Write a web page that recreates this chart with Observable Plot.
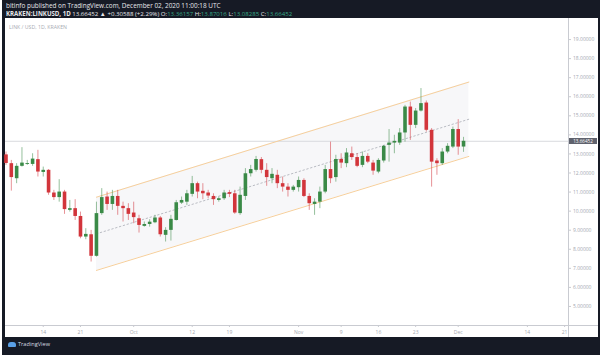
<!DOCTYPE html>
<html><head><meta charset="utf-8">
<script src="https://cdn.jsdelivr.net/npm/d3@7"></script>
<script src="https://cdn.jsdelivr.net/npm/@observablehq/plot@0.6"></script>
<style>
html,body{margin:0;padding:0;background:#fff;}
#frame{position:relative;width:602px;height:355px;overflow:hidden;background:#fff;font-family:"Open Sans","Noto Sans",sans-serif;}
#dark{position:absolute;left:2px;top:0;width:598px;height:355px;background:#161a25;}
.h{position:absolute;white-space:nowrap;line-height:1;}
#head1{left:6px;top:2.5px;font-size:6.4px;color:#e6e7ea;}
#head2{left:6px;top:10.5px;font-size:6.1px;color:#e6e7ea;}
#head2 b{font-weight:700;}
#head2 .g{color:#36a887;}
#chart{position:absolute;left:5px;top:18px;width:593px;height:319px;background:#fff;}
#sym{left:9px;top:25px;font-size:5.2px;color:#a8abb3;}
#sep{position:absolute;left:568px;top:18px;width:1px;height:319px;background:#c9cbd1;}
#tag{position:absolute;left:569px;width:28px;height:6px;background:#5f626d;color:#fff;font-size:4.6px;line-height:6px;text-align:center;}
#logo{left:8px;top:342px;font-size:5.6px;color:#d8dae0;}
#logo i{display:inline-block;width:8px;height:5px;background:#5aa0e6;border-radius:3px 3px 1px 1px;margin-right:2px;vertical-align:middle;}
</style></head>
<body>
<div id="frame">
  <div id="dark"></div>
  <div class="h" id="head1">bitinfo published on TradingView.com, December 02, 2020 11:00:18 UTC</div>
  <div class="h" id="head2"><b>KRAKEN:LINKUSD, 1D</b> 13.66452 ▲ +0.30588 (+2.29%) O:<span class="g">13.36157</span> H:<span class="g">13.87016</span> L:<span class="g">13.08285</span> C:<span class="g">13.66452</span></div>
  <div id="chart"></div>
  <div class="h" id="sym">LINK / USD, 1D, KRAKEN</div>
  <div id="sep"></div>
  <div class="h" id="logo"><i></i>TradingView</div>
</div>
<script>
// ---- data (LINK/USD daily, Kraken) ----
const firstDay = "2020-09-07";
const open = [12.95,12.49,11.70,12.35,12.45,12.45,12.70,12.03,12.14,10.95,
  10.71,11.00,10.04,10.13,9.72,8.64,8.76,7.63,9.87,10.74,
  10.35,10.77,10.25,10.13,9.90,9.60,9.20,9.30,9.39,9.64,
  8.73,8.99,9.51,10.42,10.47,10.88,11.44,11.04,10.95,10.77,
  10.56,10.65,10.97,10.91,9.87,10.77,11.96,12.14,12.70,12.14,
  11.70,11.88,11.44,11.26,11.09,11.23,11.61,10.77,10.35,10.47,
  11.00,12.18,11.76,12.71,12.49,13.01,12.81,12.40,12.87,12.52,
  12.05,12.63,13.45,13.57,13.57,14.10,15.46,14.50,15.25,15.67,
  14.24,12.63,12.49,13.10,13.36,14.28,13.36157];
const high = [13.10,12.66,12.49,13.33,12.66,13.01,13.19,12.31,12.18,11.09,
  11.65,11.09,10.56,10.60,9.95,9.08,8.99,10.47,11.18,11.00,
  11.09,11.09,10.47,10.39,10.47,9.78,9.43,9.55,9.78,9.72,
  9.13,9.78,10.56,10.74,11.09,11.82,11.52,11.44,11.09,10.91,
  10.74,11.09,11.09,11.09,11.26,12.23,12.40,12.87,12.81,12.49,
  12.23,12.14,11.79,11.44,11.35,11.79,11.70,10.91,10.65,11.26,
  12.40,13.62,12.93,13.01,13.28,13.36,13.01,13.10,13.01,12.66,
  12.75,13.45,14.28,13.98,14.33,15.55,15.72,15.38,16.43,15.78,
  14.33,12.75,13.28,13.54,14.41,14.80,13.87016];
const low = [12.40,11.05,11.44,12.31,12.40,12.35,11.79,11.79,10.83,10.56,
  10.47,9.83,9.95,9.51,8.55,8.50,7.33,7.59,9.78,10.04,
  10.04,9.78,9.43,9.51,9.34,8.85,9.16,9.16,9.34,8.64,
  8.38,8.43,9.48,10.35,10.30,10.74,10.65,10.60,10.65,10.30,
  10.47,10.56,10.71,9.83,9.78,10.56,11.79,12.05,11.96,11.30,
  11.44,11.18,11.00,10.74,11.00,11.00,10.71,10.04,9.78,10.13,
  10.91,11.44,11.52,12.23,12.28,12.66,12.28,12.28,12.49,11.88,
  11.96,12.52,12.57,13.01,13.45,13.62,13.71,14.33,15.20,14.15,
  11.26,11.88,12.40,13.01,13.28,12.93,13.08285];
const close = [12.50,11.76,12.35,12.52,12.50,12.73,12.05,12.14,10.95,10.71,
  11.00,10.08,10.13,9.72,8.64,8.78,7.63,9.87,10.71,10.35,
  10.77,10.25,10.13,9.83,9.66,9.25,9.30,9.42,9.64,8.76,
  8.99,9.57,10.44,10.56,10.91,11.44,11.00,10.91,10.79,10.60,
  10.65,10.95,10.88,9.90,10.83,11.96,12.18,12.71,12.14,11.76,
  11.93,11.44,11.26,11.09,11.26,11.61,10.77,10.39,10.47,11.00,
  12.18,11.70,12.71,12.52,13.05,12.81,12.35,12.87,12.57,12.10,
  12.66,13.40,13.57,13.66,14.10,15.46,14.50,15.25,15.64,14.24,
  12.57,12.49,13.10,13.40,14.28,13.36,13.66452];

// parallel channel (drawing)
const channelDates = ["2020-09-24", "2020-12-03"];
const channelUpper = [10.73, 16.77];
const channelLower = [6.89, 12.87];
const channelMid = [8.81, 14.82];

// axis ticks
const yTicks = [5,6,7,8,9,10,11,12,13,14,15,16,17,18,19];
const xTickDates = ["2020-09-14","2020-09-21","2020-10-01","2020-10-12","2020-10-19","2020-11-01","2020-11-09","2020-11-16","2020-11-23","2020-12-01","2020-12-14","2020-12-21"];
const xTickLabels = ["14","21","Oct","12","19","Nov","9","16","23","Dec","14","21"];

const lastClose = 13.66452;

// ---- build ----
const start = new Date(firstDay + "T00:00:00Z");
const dates = open.map((_, i) => d3.utcDay.offset(start, i));
const candles = dates.map((date, i) => ({date, open: open[i], high: high[i], low: low[i], close: close[i]}));
const channel = channelDates.map((d, i) => ({date: new Date(d + "T00:00:00Z"), upper: channelUpper[i], lower: channelLower[i], mid: channelMid[i]}));
const tickDates = xTickDates.map(d => new Date(d + "T00:00:00Z"));
const labelMap = new Map(tickDates.map((d, i) => [+d, xTickLabels[i]]));

const DAY = 864e5;
const xDomain = [new Date(+start - 0.094 * DAY), new Date(+start + 105.73 * DAY)];
const up = "#3a8a47", down = "#d2353b";
const col = d => d.close >= d.open ? up : down;

const chart = Plot.plot({
  width: 593, height: 319,
  marginLeft: 0, marginRight: 30, marginTop: 2, marginBottom: 12,
  style: {fontSize: "5px", fontFamily: "'Open Sans','Noto Sans',sans-serif", color: "#9a9ea8", background: "transparent", overflow: "visible"},
  x: {type: "utc", domain: xDomain},
  y: {domain: [4, 20]},
  marks: [
    Plot.areaY(channel, {x: "date", y1: "lower", y2: "upper", fill: "#f7f7f9", curve: "linear"}),
    Plot.ruleY([lastClose], {stroke: "#d9dade", strokeWidth: 1}),
    Plot.line(channel, {x: "date", y: "upper", stroke: "#f6cf9c", strokeWidth: 1}),
    Plot.line(channel, {x: "date", y: "lower", stroke: "#f6cf9c", strokeWidth: 1}),
    Plot.line(channel, {x: "date", y: "mid", stroke: "#b3b6bd", strokeWidth: 0.9, strokeDasharray: "1.5,2.5"}),
    Plot.ruleX(candles, {x: "date", y1: "low", y2: "high", stroke: col, strokeWidth: 0.9, strokeOpacity: 0.6}),
    Plot.ruleX(candles, {x: "date", y1: "open", y2: "close", stroke: col, strokeWidth: 3.6}),
    Plot.ruleY([4], {stroke: "#c9cbd1"}),
    Plot.axisY(yTicks, {anchor: "right", tickSize: 2, tickPadding: 2.5, stroke: "#c9cbd1", fill: "#a4a7b0", tickFormat: d => d.toFixed(5)}),
    Plot.axisX(tickDates, {anchor: "bottom", tickSize: 2, tickPadding: 2.5, stroke: "#c9cbd1", fill: "#a4a7b0", tickFormat: d => labelMap.get(+d)})
  ]
});
document.getElementById("chart").appendChild(chart);

// price tag on the price axis, positioned by the plot's y scale
const yPos = chart.scale("y").apply(lastClose) + 18;
const tag = document.createElement("div");
tag.id = "tag";
tag.style.top = (yPos - 3) + "px";
tag.textContent = lastClose.toFixed(5);
document.getElementById("frame").appendChild(tag);

// extend the time-axis line under the price axis column
const axisY = chart.scale("y").apply(4) + 18;
const ext = document.createElement("div");
ext.style.cssText = `position:absolute;left:568px;top:${axisY - 0.5}px;width:30px;height:1px;background:#c9cbd1;`;
document.getElementById("frame").appendChild(ext);
</script>
</body></html>
